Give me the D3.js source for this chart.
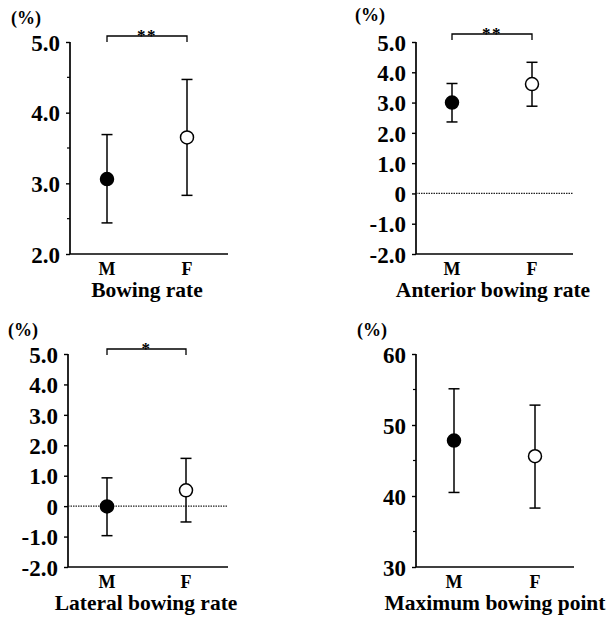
<!DOCTYPE html>
<html>
<head>
<meta charset="utf-8">
<script src="https://cdn.jsdelivr.net/npm/d3@7"></script>
<style>
  html, body { margin: 0; padding: 0; background: #fff; }
  svg { display: block; }
  text { font-family: "Liberation Serif", "Times New Roman", serif; font-weight: bold; fill: #000; }
</style>
</head>
<body>
<svg id="chart" width="609" height="617"></svg>
<script>
// ---- data ----
const groups = ["M", "F"];

const bowingMean = [3.06, 3.65];
const bowingLow  = [2.44, 2.83];
const bowingHigh = [3.69, 4.47];

const anteriorMean = [3.0, 3.61];
const anteriorLow  = [2.36, 2.88];
const anteriorHigh = [3.63, 4.33];

const lateralMean = [-0.01, 0.52];
const lateralLow  = [-0.97, -0.52];
const lateralHigh = [0.93, 1.57];

const maxPointMean = [47.8, 45.6];
const maxPointLow  = [40.5, 38.3];
const maxPointHigh = [55.1, 52.8];

const rateTicks = [-2, -1, 0, 1, 2, 3, 4, 5];
const rateTickLabels = ["-2.0", "-1.0", "0", "1.0", "2.0", "3.0", "4.0", "5.0"];
const bowingTicks = [2, 3, 4, 5];
const bowingTickLabels = ["2.0", "3.0", "4.0", "5.0"];
const bowingMinor = [2.5, 3.5, 4.5];
const pointTicks = [30, 40, 50, 60];
const pointTickLabels = ["30", "40", "50", "60"];
const pointMinor = [35, 45, 55];

const titles = ["Bowing rate", "Anterior bowing rate", "Lateral bowing rate", "Maximum bowing point"];
const sigMarks = ["**", "**", "*", null];

// ---- drawing ----
const svg = d3.select("#chart");
const FONT = '"Liberation Serif", "Times New Roman", serif';

function panel(cfg) {
  const g = svg.append("g");
  const y = d3.scaleLinear().domain(cfg.domain).range([cfg.yBottom, cfg.yTop]);
  const x = d3.scalePoint().domain(groups).range([cfg.axisX + cfg.mOff, cfg.axisX + cfg.fOff]);

  // y axis
  const yAxis = d3.axisLeft(y)
    .tickValues(cfg.ticks)
    .tickFormat((d, i) => cfg.tickLabels[i])
    .tickSize(4)
    .tickPadding(6);
  const ya = g.append("g").attr("transform", `translate(${cfg.axisX},0)`).call(yAxis);
  ya.attr("font-family", FONT).attr("font-size", 23);
  ya.select(".domain").attr("stroke", "#000").attr("stroke-width", 1.7).attr("d", `M0,${cfg.yTop}V${cfg.yBottom}`);
  ya.selectAll(".tick line").attr("stroke", "#000").attr("stroke-width", 1.4);
  ya.selectAll(".tick text")
    .style("font-family", FONT)
    .style("font-weight", "bold")
    .style("font-size", "23px")
    .attr("fill", "#000")
    .attr("dy", "0.36em");

  if (cfg.minor) {
    g.selectAll(".minor").data(cfg.minor).enter().append("line")
      .attr("x1", cfg.axisX - 3).attr("x2", cfg.axisX)
      .attr("y1", d => y(d)).attr("y2", d => y(d))
      .attr("stroke", "#000").attr("stroke-width", 1.2);
  }

  // x axis line
  g.append("line")
    .attr("x1", cfg.axisX).attr("x2", cfg.xEnd)
    .attr("y1", cfg.yBottom).attr("y2", cfg.yBottom)
    .attr("stroke", "#000").attr("stroke-width", 1.7);

  // zero reference line
  if (cfg.zeroLine) {
    g.append("line")
      .attr("x1", cfg.axisX).attr("x2", cfg.xEnd)
      .attr("y1", y(0)).attr("y2", y(0))
      .attr("stroke", "#222").attr("stroke-width", 1.3)
      .attr("stroke-dasharray", "1.5,1");
  }

  // category labels
  g.selectAll(".cat").data(groups).enter().append("text")
    .attr("x", d => x(d)).attr("y", cfg.yBottom + 21)
    .attr("text-anchor", "middle")
    .attr("fill", "#000")
    .style("font-size", "18px")
    .text(d => d);

  // title
  g.append("text")
    .attr("x", cfg.titleX).attr("y", cfg.yBottom + 43)
    .attr("text-anchor", "middle")
    .attr("fill", "#000")
    .style("font-size", "21.5px")
    .text(cfg.title);

  // unit
  g.append("text")
    .attr("x", cfg.unitX).attr("y", cfg.unitY)
    .attr("fill", "#000")
    .style("font-size", "18px")
    .text("(%)");

  // error bars
  const cap = 5.5;
  groups.forEach((gr, i) => {
    const cx = x(gr);
    g.append("line").attr("x1", cx).attr("x2", cx)
      .attr("y1", y(cfg.low[i])).attr("y2", y(cfg.high[i]))
      .attr("stroke", "#000").attr("stroke-width", 1.5);
    [cfg.low[i], cfg.high[i]].forEach(v => {
      g.append("line").attr("x1", cx - cap).attr("x2", cx + cap)
        .attr("y1", y(v)).attr("y2", y(v))
        .attr("stroke", "#000").attr("stroke-width", 1.5);
    });
  });
  g.selectAll(".pt").data(groups).enter().append("circle")
    .attr("cx", d => x(d)).attr("cy", (d, i) => y(cfg.mean[i]))
    .attr("r", 6.5)
    .attr("fill", (d, i) => i === 0 ? "#000" : "#fff")
    .attr("stroke", "#000").attr("stroke-width", 1.5);

  // significance bracket
  if (cfg.sig) {
    const x1 = x("M"), x2 = x("F");
    g.append("path")
      .attr("d", `M${x1},${cfg.brY + 6}V${cfg.brY}H${x2}V${cfg.brY + 6}`)
      .attr("fill", "none").attr("stroke", "#000").attr("stroke-width", 1.3);
    g.append("text")
      .attr("x", (x1 + x2) / 2).attr("y", cfg.brY + 5)
      .attr("text-anchor", "middle")
      .attr("fill", "#000")
      .style("font-size", "17px")
      .style("letter-spacing", "1.5px")
      .text(cfg.sig);
  }
}

panel({
  domain: [2, 5], yTop: 42, yBottom: 254, axisX: 70, xEnd: 228, mOff: 37, fOff: 117,
  ticks: bowingTicks, tickLabels: bowingTickLabels, minor: bowingMinor,
  mean: bowingMean, low: bowingLow, high: bowingHigh,
  title: titles[0], titleX: 147, unitX: 11, unitY: 24, sig: sigMarks[0], brY: 36, zeroLine: false
});
panel({
  domain: [-2, 5], yTop: 42, yBottom: 254, axisX: 416, xEnd: 573, mOff: 36, fOff: 116,
  ticks: rateTicks, tickLabels: rateTickLabels, minor: null,
  mean: anteriorMean, low: anteriorLow, high: anteriorHigh,
  title: titles[1], titleX: 493, unitX: 355, unitY: 21, sig: sigMarks[1], brY: 34, zeroLine: true
});
panel({
  domain: [-2, 5], yTop: 354, yBottom: 567, axisX: 68, xEnd: 228, mOff: 39, fOff: 118,
  ticks: rateTicks, tickLabels: rateTickLabels, minor: null,
  mean: lateralMean, low: lateralLow, high: lateralHigh,
  title: titles[2], titleX: 146, unitX: 8, unitY: 336, sig: sigMarks[2], brY: 349, zeroLine: true
});
panel({
  domain: [30, 60], yTop: 354, yBottom: 567, axisX: 416, xEnd: 574, mOff: 38, fOff: 119,
  ticks: pointTicks, tickLabels: pointTickLabels, minor: pointMinor,
  mean: maxPointMean, low: maxPointLow, high: maxPointHigh,
  title: titles[3], titleX: 495, unitX: 357, unitY: 336, sig: sigMarks[3], brY: 0, zeroLine: false
});
</script>
</body>
</html>
